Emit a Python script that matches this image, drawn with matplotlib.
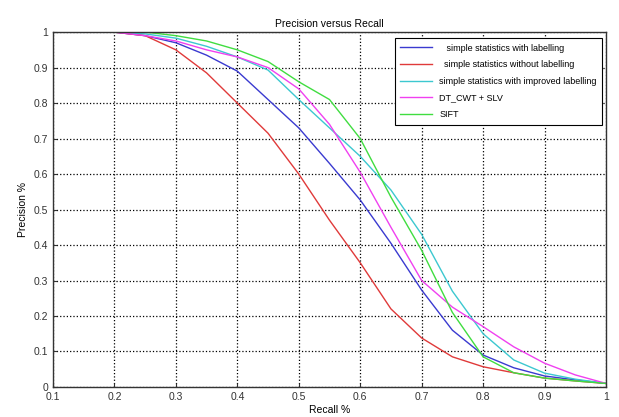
import matplotlib
matplotlib.use('Agg')
from matplotlib import pyplot as plt

plt.rcParams['font.family'] = ['Liberation Sans', 'DejaVu Sans']

# recall values (x) shared by all curves
recall = [0.2, 0.25, 0.3, 0.35, 0.4, 0.45, 0.5, 0.55, 0.6, 0.65,
          0.7, 0.75, 0.8, 0.85, 0.9, 0.95, 1.0]

# precision for each method
prec_with_lab = [1.0, 0.99, 0.97, 0.935, 0.89, 0.81, 0.73, 0.63, 0.527, 0.405,
                 0.273, 0.16, 0.09, 0.054, 0.031, 0.02, 0.01]
prec_without_lab = [1.0, 0.99, 0.95, 0.885, 0.80, 0.715, 0.60, 0.47, 0.35, 0.22,
                    0.138, 0.085, 0.057, 0.04, 0.025, 0.017, 0.01]
prec_improved = [1.0, 0.995, 0.983, 0.96, 0.93, 0.893, 0.81, 0.73, 0.65, 0.555,
                 0.43, 0.27, 0.15, 0.076, 0.039, 0.022, 0.01]
prec_dtcwt = [1.0, 0.99, 0.975, 0.95, 0.93, 0.90, 0.84, 0.74, 0.605, 0.45,
              0.30, 0.225, 0.17, 0.113, 0.067, 0.034, 0.01]
prec_sift = [1.0, 1.0, 0.99, 0.975, 0.95, 0.917, 0.86, 0.81, 0.70, 0.535,
             0.385, 0.21, 0.085, 0.04, 0.025, 0.017, 0.01]

labels = ['   simple statistics with labelling',
          '  simple statistics without labelling',
          'simple statistics with improved labelling',
          'DT_CWT + SLV',
          'SIFT']

fig = plt.figure(figsize=(6.19, 4.17), dpi=100)
ax = fig.add_axes([0.0856, 0.072, 0.8934, 0.851])

ax.plot(recall, prec_with_lab, color='#3a3ad0', lw=1, label=labels[0])
ax.plot(recall, prec_without_lab, color='#e03a3a', lw=1, label=labels[1])
ax.plot(recall, prec_improved, color='#3cc8d0', lw=1, label=labels[2])
ax.plot(recall, prec_dtcwt, color='#f040f0', lw=1, label=labels[3])
ax.plot(recall, prec_sift, color='#40dd40', lw=1, label=labels[4])

ax.set_xlim(0.1, 1)
ax.set_ylim(0, 1)
xt = [0.1, 0.2, 0.3, 0.4, 0.5, 0.6, 0.7, 0.8, 0.9, 1.0]
yt = [0, 0.1, 0.2, 0.3, 0.4, 0.5, 0.6, 0.7, 0.8, 0.9, 1.0]
ax.set_xticks(xt)
ax.set_xticklabels(['0.1', '0.2', '0.3', '0.4', '0.5', '0.6', '0.7', '0.8', '0.9', '1'])
ax.set_yticks(yt)
ax.set_yticklabels(['0', '0.1', '0.2', '0.3', '0.4', '0.5', '0.6', '0.7', '0.8', '0.9', '1'])
ax.tick_params(labelsize=7.5, direction='in', length=3, colors='#333333')
for s in ax.spines.values():
    s.set_color('#333333')
    s.set_linewidth(1)

ax.grid(True, color='black', linestyle=':', linewidth=0.9)

ax.set_title('Precision versus Recall', fontsize=7.5, pad=4)
ax.set_xlabel('Recall %', fontsize=7.5, labelpad=2)
ax.set_ylabel('Precision %', fontsize=7.5, labelpad=4)

leg = ax.legend(loc='upper right', bbox_to_anchor=(0.993, 0.983), fontsize=6.5,
                frameon=True, fancybox=False, borderaxespad=0,
                handlelength=3.5, labelspacing=0.85, borderpad=0.6)
leg.get_frame().set_edgecolor('black')
leg.get_frame().set_linewidth(0.8)
leg.get_frame().set_alpha(1)

plt.savefig('out.png', dpi=100)
